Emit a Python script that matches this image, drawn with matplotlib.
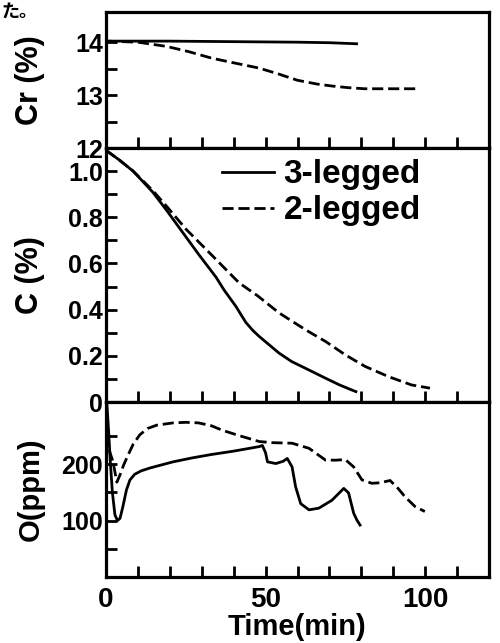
import numpy as np
import matplotlib
matplotlib.use("Agg")
import matplotlib.pyplot as plt
from matplotlib.ticker import FixedLocator

plt.rcParams['font.family'] = ['Liberation Sans', 'DejaVu Sans']
plt.rcParams['font.weight'] = 'bold'
plt.rcParams['axes.labelweight'] = 'bold'
plt.rcParams['lines.scale_dashes'] = False

# Cr (%) vs time
cr3_t = [0, 20, 40, 60, 70, 78.5]
cr3_v = [14.02, 14.02, 14.01, 14.0, 13.99, 13.97]
cr2_t = [0, 10, 19, 26, 33, 40, 48, 54, 60, 66, 71, 76, 81, 90, 98.4]
cr2_v = [14.02, 14.0, 13.92, 13.82, 13.70, 13.61, 13.51, 13.40, 13.28, 13.21,
         13.17, 13.14, 13.12, 13.12, 13.12]

# C (%) vs time
c3_t = [0, 4, 8.5, 14.7, 19, 24.1, 29, 34.5, 37, 40.7, 42, 43.8, 46, 48, 54.2,
        58.2, 62.5, 68.8, 73, 77, 78.3]
c3_v = [1.09, 1.05, 1.0, 0.908, 0.83, 0.733, 0.64, 0.54, 0.485, 0.414, 0.385,
        0.345, 0.31, 0.284, 0.212, 0.175, 0.146, 0.103, 0.075, 0.052, 0.045]
c2_t = [0, 4, 8.5, 14.7, 18.9, 25.1, 30, 34.5, 41.7, 47.5, 54.2, 62.5, 68.8, 75,
        81.2, 88.5, 95.7, 101.5]
c2_v = [1.09, 1.05, 1.0, 0.915, 0.849, 0.748, 0.68, 0.617, 0.516, 0.46, 0.386,
        0.313, 0.262, 0.204, 0.154, 0.11, 0.074, 0.06]

# O (ppm) vs time
o3_t = [0.3, 0.8, 1.4, 2.0, 2.8, 3.6, 4.4, 5.3, 6.4, 7.5, 9, 11, 13.7, 17, 21, 27,
        33, 40, 45, 48, 49, 50, 50.6, 53.2, 55.5, 56.8, 58.3, 59.4, 61, 63.6,
        66.7, 70.8, 74.5, 76, 77.6, 78.6, 79.6]
o3_v = [305, 260, 200, 150, 110, 100, 104, 125, 154, 172, 182, 188, 193, 198, 204,
        211, 217, 223, 228, 231, 233, 220, 204, 201, 205, 210, 195, 160, 130, 119,
        122, 136, 157, 149, 113, 101, 92]
o2_t = [1, 2.2, 3.4, 4.4, 5.5, 6.9, 8.5, 10.6, 13, 15.9, 21, 25, 29, 33, 36.4, 42,
        48, 52, 58.3, 63.6, 68.8, 72, 75, 77.6, 80.2, 83.3, 86, 89, 91.5, 93.7,
        96.8, 99.9]
o2_v = [225, 204, 168, 181, 198, 216, 235, 252, 263, 269, 273, 274, 273, 268, 260,
        250, 240, 238, 237, 228, 207, 207, 208, 195, 172, 166, 167, 171, 157, 142,
        125, 116]

labels = ['3-legged', '2-legged']

fig = plt.figure(figsize=(5.0, 6.43), dpi=100)
L, W = 0.212, 0.766
ax1 = fig.add_axes([L, 0.7698, W, 0.2115])
ax2 = fig.add_axes([L, 0.3748, W, 0.3950], sharex=ax1)
ax3 = fig.add_axes([L, 0.1026, W, 0.2722], sharex=ax1)

lw = 2.0
dash = (0, (8, 3.5))

ax1.plot(cr3_t, cr3_v, 'k-', lw=lw)
ax1.plot(cr2_t, cr2_v, 'k', lw=lw, linestyle=dash)
ax2.plot(c3_t, c3_v, 'k-', lw=lw, label=labels[0])
ax2.plot(c2_t, c2_v, 'k', lw=lw, linestyle=dash, label=labels[1])
ax3.plot(o3_t, o3_v, 'k-', lw=lw)
ax3.plot(o2_t, o2_v, 'k', lw=lw, linestyle=dash)

ax1.set_xlim(0, 120)
ax1.set_ylim(12, 14.57)
ax2.set_ylim(0, 1.1)
ax3.set_ylim(0, 310)

ax1.yaxis.set_major_locator(FixedLocator([12, 13, 14]))
ax1.yaxis.set_minor_locator(FixedLocator([12.5, 13.5]))
ax2.yaxis.set_major_locator(FixedLocator([0, 0.2, 0.4, 0.6, 0.8, 1.0]))
ax2.set_yticklabels(['0', '0.2', '0.4', '0.6', '0.8', '1.0'])
ax2.yaxis.set_minor_locator(FixedLocator([0.1, 0.3, 0.5, 0.7, 0.9]))
ax3.yaxis.set_major_locator(FixedLocator([100, 200]))
ax3.yaxis.set_minor_locator(FixedLocator([50, 150, 250]))
ax3.xaxis.set_major_locator(FixedLocator([0, 50, 100]))
ax3.xaxis.set_minor_locator(FixedLocator([10, 20, 30, 40, 60, 70, 80, 90, 110]))

for ax in (ax1, ax2, ax3):
    for s in ax.spines.values():
        s.set_linewidth(2.3)
    ax.tick_params(which='both', direction='in', length=8, width=2.0,
                   top=False, right=False, pad=2, labelsize=18)
    ax.tick_params(axis='x', labelsize=20, pad=7)
for ax in (ax1, ax2):
    ax.tick_params(axis='x', labelbottom=False)

ax1.set_ylabel('Cr (%)', fontsize=22)
ax2.set_ylabel('C (%)', fontsize=22)
ax3.set_ylabel('O(ppm)', fontsize=21)
for ax in (ax1, ax2, ax3):
    ax.yaxis.set_label_coords(-0.16, 0.5)
ax3.set_xlabel('Time(min)', fontsize=21, labelpad=0)

ax2.legend(loc='upper left', bbox_to_anchor=(0.303, 0.955), frameon=False,
           prop={'size': 24, 'weight': 'bold'}, handlelength=1.55,
           handletextpad=0.3, labelspacing=0.15, borderpad=0, borderaxespad=0)

fig.text(0.002, 0.997, 'た。', va='top', ha='left', fontsize=13,
         family=['Noto Sans CJK JP', 'DejaVu Sans'])

fig.savefig('out.png', dpi=100)
